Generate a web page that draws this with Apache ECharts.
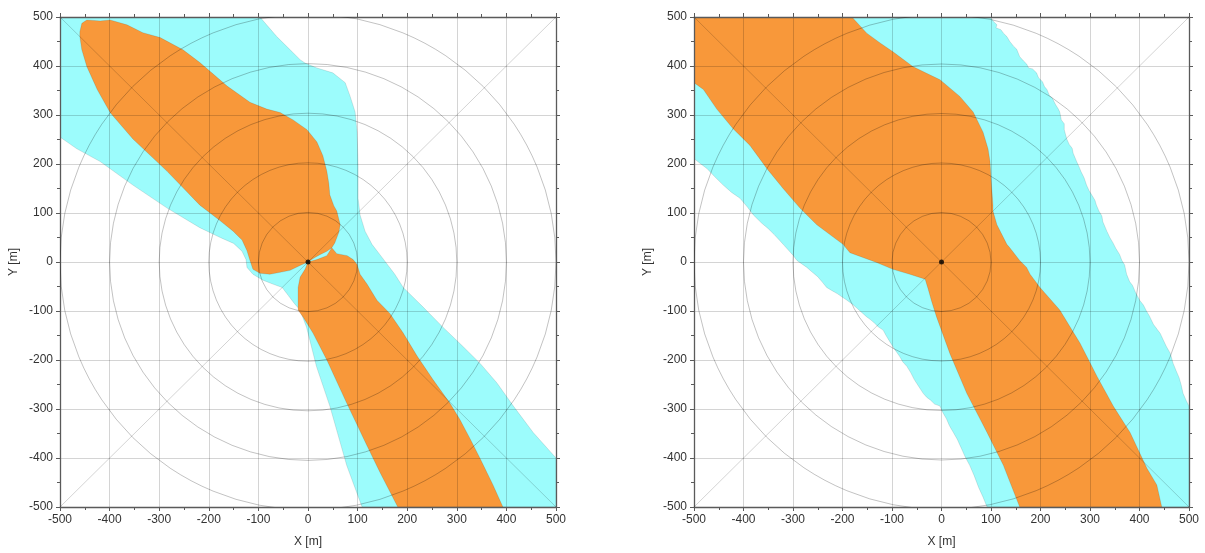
<!DOCTYPE html>
<html><head><meta charset="utf-8">
<script src="https://cdn.jsdelivr.net/npm/echarts@6/dist/echarts.min.js"></script>
<style>html,body{margin:0;padding:0;background:#fff}#c{width:1205px;height:553px}</style>
</head><body><div id="c"></div>
<script>
// Tick labels (both axes, both panels)
const tickValues = [-500,-400,-300,-200,-100,0,100,200,300,400,500];
// Reference rings and diagonals
const ringRadii = [100,200,300,400,500];
const diagonalA = [[-500,-500],[500,500]];
const diagonalB = [[-500,500],[500,-500]];
const sourcePoint = [[0,0]];

// LEFT panel: outer (cyan) envelope
const leftCyan = [[-500,500],[-97,500],[-63,460],[-36,433],[-16,413],[-6,406],[18,396],[50,386],[75,366],[85,338],[95,306],[99,265],[101,197],[101,130],[105,96],[115,63],[129,36],[145,15],[175,-25],[192,-52],[232,-92],[272,-133],[313,-173],[347,-207],[381,-247],[414,-294],[454,-348],[500,-400],[500,-500],[109,-500],[78,-415],[44,-294],[17,-213],[-3,-133],[-16,-98],[-28,-84],[-40,-68],[-52,-52],[-71,-45],[-91,-37],[-111,-25],[-123,-11],[-125,5],[-133,22],[-150,38],[-177,50],[-218,70],[-284,110],[-353,157],[-419,205],[-466,231],[-500,255]];
// LEFT panel: inner (orange) upper lobe
const leftOrangeA = [[-460,470],[-456,487],[-446,494],[-419,492],[-399,494],[-365,484],[-333,468],[-298,458],[-252,433],[-218,407],[-163,359],[-117,326],[-83,312],[-56,305],[-30,290],[-2,270],[18,245],[30,217],[38,185],[42,160],[44,137],[52,115],[58,104],[65,76],[62,60],[54,39],[48,29],[38,22],[24,15],[12,8],[0,0],[-16,-7],[-36,-17],[-56,-21],[-77,-25],[-97,-23],[-111,-15],[-117,3],[-123,23],[-133,45],[-151,63],[-177,84],[-218,116],[-284,185],[-353,251],[-399,305],[-425,352],[-446,399],[-456,433],[-460,460]];
// LEFT panel: inner (orange) lower lobe
const leftOrangeB = [[48,29],[58,17],[79,13],[91,5],[99,-5],[105,-25],[119,-45],[139,-78],[165,-105],[192,-145],[220,-192],[252,-240],[286,-288],[306,-321],[327,-361],[347,-401],[373,-455],[393,-500],[181,-500],[145,-429],[119,-375],[78,-288],[38,-200],[10,-145],[-10,-112],[-20,-98],[-20,-65],[-20,-52],[-16,-31],[-6,-15],[0,0],[18,5],[38,13]];

// RIGHT panel: outer (cyan) envelope
const rightCyan = [[-500,500],[98,500],[106,490],[112,484],[110,478],[120,474],[126,466],[132,460],[138,450],[146,440],[152,434],[158,419],[166,410],[172,404],[176,396],[184,394],[192,386],[196,376],[204,368],[208,358],[213,352],[218,340],[224,334],[230,322],[236,312],[239,306],[242,290],[248,282],[248,270],[253,251],[258,240],[264,232],[266,222],[273,205],[278,194],[282,184],[288,172],[293,157],[298,146],[304,136],[310,126],[313,116],[318,104],[324,94],[326,82],[334,63],[340,50],[346,40],[352,28],[360,15],[364,4],[370,-6],[374,-25],[380,-40],[386,-48],[392,-62],[401,-79],[408,-88],[414,-100],[420,-110],[428,-127],[436,-138],[442,-146],[448,-159],[454,-172],[462,-186],[468,-207],[474,-222],[480,-236],[484,-250],[488,-268],[494,-282],[500,-294],[500,-500],[92,-500],[84,-480],[75,-460],[66,-436],[57,-415],[48,-398],[40,-380],[32,-362],[24,-348],[16,-334],[10,-320],[2,-306],[-3,-294],[-14,-290],[-22,-282],[-30,-276],[-37,-268],[-46,-254],[-55,-240],[-62,-226],[-70,-213],[-78,-204],[-85,-192],[-92,-182],[-98,-173],[-106,-160],[-112,-150],[-118,-139],[-128,-132],[-135,-125],[-143,-118],[-151,-112],[-160,-104],[-170,-95],[-180,-86],[-191,-78],[-200,-72],[-210,-65],[-222,-58],[-232,-52],[-240,-42],[-250,-30],[-262,-20],[-272,-11],[-282,-4],[-292,3],[-300,14],[-310,25],[-318,34],[-326,43],[-338,56],[-350,68],[-364,80],[-380,96],[-392,112],[-407,130],[-424,142],[-441,157],[-458,174],[-474,191],[-486,200],[-500,211]];
// RIGHT panel: inner (orange) region
const rightOrange = [[-500,500],[-181,500],[-151,467],[-124,447],[-98,429],[-58,399],[-30,385],[-3,372],[37,338],[64,306],[84,265],[94,231],[98,205],[101,157],[104,116],[104,104],[112,76],[120,60],[132,36],[138,29],[158,3],[172,-11],[179,-25],[199,-52],[239,-98],[280,-166],[314,-233],[347,-294],[381,-348],[415,-421],[435,-455],[445,-500],[158,-500],[125,-415],[92,-348],[51,-268],[17,-187],[-10,-112],[-20,-80],[-27,-55],[-33,-35],[-64,-25],[-98,-15],[-131,-1],[-185,19],[-199,36],[-252,76],[-286,110],[-320,150],[-353,191],[-387,238],[-421,272],[-454,312],[-481,352],[-500,366]];

const CYAN = '#9cfcfc', ORANGE = '#f8983a';
const FONT = '"Liberation Sans", Arial, sans-serif';

const panels = [
  {left:60, width:496, cyan:leftCyan, orange:[leftOrangeA, leftOrangeB]},
  {left:694, width:495, cyan:rightCyan, orange:[rightOrange]}
];

const grids = [], xAxes = [], yAxes = [], series = [];
panels.forEach((p, i) => {
  grids.push({left:p.left, width:p.width, top:17, height:495, containLabel:false});
  const common = {
    type:'value', gridIndex:i, min:-500, max:500, interval:100, z:3,
    axisLine:{show:true, onZero:false, lineStyle:{color:'#5a5a5a', width:1.3}},
    axisTick:{show:true, inside:false, length:4, lineStyle:{color:'#5a5a5a', width:1}},
    minorTick:{show:true, splitNumber:2, length:3, lineStyle:{color:'#5a5a5a', width:1}},
  };
  const labelStyle = {show:true, fontSize:12, color:'#333', fontFamily:FONT, margin:7,
    formatter: v => tickValues.includes(v) ? String(v) : ''};
  xAxes.push(Object.assign({}, common, {position:'bottom', axisLabel:labelStyle,
    splitLine:{show:true, lineStyle:{color:'rgba(0,0,0,0.17)', width:1}},
    name:'X [m]', nameLocation:'middle', nameGap:29,
    nameTextStyle:{fontSize:12, color:'#333', fontFamily:FONT}}));
  xAxes.push(Object.assign({}, common, {position:'top', axisLabel:{show:false}, splitLine:{show:false}}));
  yAxes.push(Object.assign({}, common, {position:'left', axisLabel:labelStyle,
    splitLine:{show:true, lineStyle:{color:'rgba(0,0,0,0.17)', width:1}},
    name:'Y [m]', nameLocation:'middle', nameGap:40, nameRotate:90,
    nameTextStyle:{fontSize:12, color:'#333', fontFamily:FONT}}));
  yAxes.push(Object.assign({}, common, {position:'right', axisLabel:{show:false}, splitLine:{show:false}}));

  const xi = i*2, yi = i*2;
  const poly = (pts, color, z) => ({
    type:'custom', coordinateSystem:'cartesian2d', xAxisIndex:xi, yAxisIndex:yi,
    z, silent:true, clip:true, data:[[0,0]],
    renderItem:(params, api) => ({type:'polygon',
      shape:{points: pts.map(q => api.coord(q))},
      style:{fill:color, stroke:'rgba(0,0,0,0.18)', lineWidth:0.6}})
  });
  series.push(poly(p.cyan, CYAN, 1));
  p.orange.forEach(o => series.push(poly(o, ORANGE, 2)));
  series.push({
    type:'custom', coordinateSystem:'cartesian2d', xAxisIndex:xi, yAxisIndex:yi,
    z:5, silent:true, clip:true, data: ringRadii.map(r => [0,0,r]),
    renderItem:(params, api) => {
      const c = api.coord([api.value(0), api.value(1)]);
      const s = api.size([api.value(2), api.value(2)]);
      return {type:'circle', shape:{cx:c[0], cy:c[1], r:s[0]},
        style:{fill:'none', stroke:'rgba(0,0,0,0.3)', lineWidth:0.8}};
    }
  });
  [diagonalA, diagonalB].forEach(d => series.push({
    type:'line', xAxisIndex:xi, yAxisIndex:yi, data:d, symbol:'none', z:5, silent:true,
    lineStyle:{color:'rgba(0,0,0,0.22)', width:0.8}
  }));
  series.push({type:'scatter', xAxisIndex:xi, yAxisIndex:yi, data:sourcePoint,
    symbolSize:5, itemStyle:{color:'#000'}, z:10, silent:true});
});

const chart = echarts.init(document.getElementById('c'), null, {renderer:'canvas'});
chart.setOption({animation:false, backgroundColor:'#fff', grid:grids, xAxis:xAxes, yAxis:yAxes, series});
</script>
</body></html>
